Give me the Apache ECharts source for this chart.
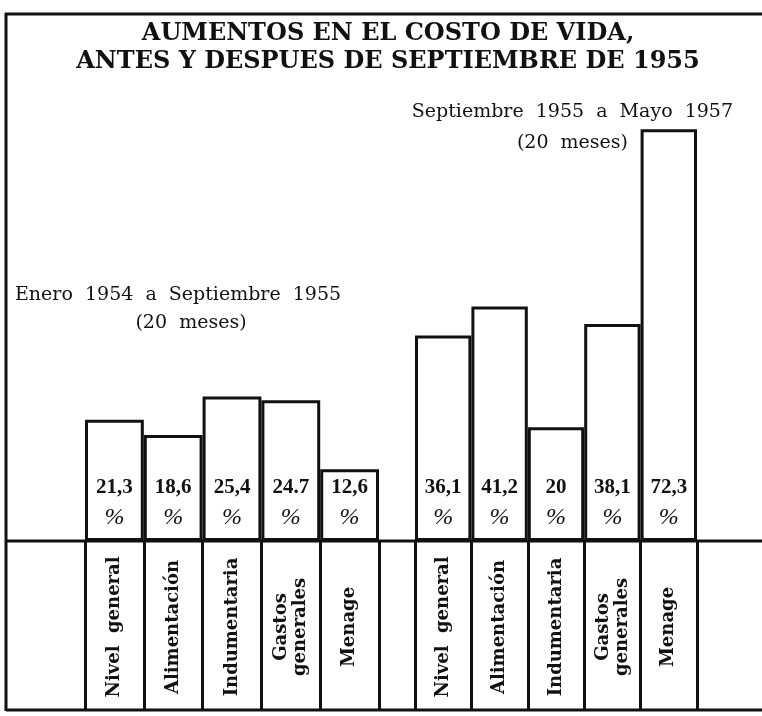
<!DOCTYPE html>
<html>
<head>
    <meta charset="utf-8"/>
    <title>Aumentos en el costo de vida</title>
    <script src="https://cdn.jsdelivr.net/npm/echarts@6/dist/echarts.min.js"></script>
    <style>
        html, body { margin: 0; padding: 0; background: #fff; }
        #grafico { width: 762px; height: 716px; }
    </style>
</head>
<body>
<div id="grafico"></div>
<script>
    // rubros (iguales en los dos periodos)
    var rubros = ['Nivel  general', 'Alimentación', 'Indumentaria', 'Gastos\ngenerales', 'Menage'];

    // Enero 1954 a Septiembre 1955 (20 meses)
    var antes = [21.3, 18.6, 25.4, 24.7, 12.6];
    var antesTxt = ['21,3', '18,6', '25,4', '24.7', '12,6'];

    // Septiembre 1955 a Mayo 1957 (20 meses)
    var despues = [36.1, 41.2, 20, 38.1, 72.3];
    var despuesTxt = ['36,1', '41,2', '20', '38,1', '72,3'];

    var negro = '#111';
    var serif = '"DejaVu Serif", "Liberation Serif", serif';

    var myChart = echarts.init(document.getElementById('grafico'), null, {renderer: 'canvas'});

    function etiqueta(txt) {
        return {
            show: true,
            position: 'insideBottom',
            distance: 8,
            formatter: function (p) {
                return '{n|' + txt[p.dataIndex] + '}\n{p|%}';
            },
            rich: {
                n: {fontFamily: '"Liberation Serif", serif', fontWeight: 'bold', fontSize: 21, lineHeight: 30, color: negro},
                p: {fontFamily: '"Liberation Serif", serif', fontStyle: 'italic', fontSize: 24, lineHeight: 30, color: negro}
            }
        };
    }

    function ejeBarras(idx) {
        return {
            type: 'category', gridIndex: idx, data: rubros,
            axisLine: {show: false}, axisTick: {show: false}, splitLine: {show: false},
            axisLabel: {
                interval: 0, rotate: 90, margin: 86,
                align: 'center', verticalAlign: 'middle',
                fontFamily: serif, fontWeight: 'bold', fontSize: 18, lineHeight: 19, color: negro
            }
        };
    }

    function ejeTabla(idx) {
        return {
            type: 'category', gridIndex: idx, data: ['', '', '', '', ''],
            axisLine: {show: false}, axisTick: {show: false}, axisLabel: {show: false},
            splitLine: {show: true, interval: 0, lineStyle: {color: negro, width: 3}}
        };
    }

    function textoG(txt, x, y, align, font) {
        return {
            type: 'text', x: x, y: y, silent: true,
            style: {text: txt, font: font, fill: negro, textAlign: align, textVerticalAlign: 'middle'}
        };
    }

    function linea(x1, y1, x2, y2) {
        return {type: 'line', silent: true, shape: {x1: x1, y1: y1, x2: x2, y2: y2}, style: {stroke: negro, lineWidth: 3}};
    }

    var option = {
        backgroundColor: '#fff',
        animation: false,
        grid: [
            {left: 85, width: 294, top: 114, bottom: 175},   // barras antes
            {left: 415, width: 282, top: 114, bottom: 175},  // barras despues
            {left: 85, width: 294, top: 541, bottom: 6},     // tabla antes
            {left: 415, width: 282, top: 541, bottom: 6}     // tabla despues
        ],
        xAxis: [ejeBarras(0), ejeBarras(1), ejeTabla(2), ejeTabla(3)],
        yAxis: [0, 1, 2, 3].map(function (i) {
            return {type: 'value', gridIndex: i, min: 0, max: i < 2 ? 75 : 1, show: false};
        }),
        series: [
            {
                type: 'bar', xAxisIndex: 0, yAxisIndex: 0, data: antes, barCategoryGap: '0%',
                itemStyle: {color: '#fff', borderColor: negro, borderWidth: 3},
                label: etiqueta(antesTxt)
            },
            {
                type: 'bar', xAxisIndex: 1, yAxisIndex: 1, data: despues, barCategoryGap: '0%',
                itemStyle: {color: '#fff', borderColor: negro, borderWidth: 3},
                label: etiqueta(despuesTxt)
            }
        ],
        graphic: [
            // marco
            linea(5, 14, 762, 14),
            linea(6, 13, 6, 711),
            linea(6, 541, 762, 541),
            linea(6, 710, 762, 710),
            // titulo
            textoG('AUMENTOS EN EL COSTO DE VIDA,', 388, 34, 'center', 'bold 24px ' + serif),
            textoG('ANTES Y DESPUES DE SEPTIEMBRE DE 1955', 388, 62, 'center', 'bold 24px ' + serif),
            // periodos
            textoG('Septiembre  1955  a  Mayo  1957', 733, 112, 'right', '19px ' + serif),
            textoG('(20  meses)', 628, 143, 'right', '19px ' + serif),
            textoG('Enero  1954  a  Septiembre  1955', 15, 295, 'left', '19px ' + serif),
            textoG('(20  meses)', 191, 323, 'center', '19px ' + serif)
        ]
    };

    myChart.setOption(option);

    window.onresize = function () {
        myChart.resize();
    };
</script>
</body>
</html>
